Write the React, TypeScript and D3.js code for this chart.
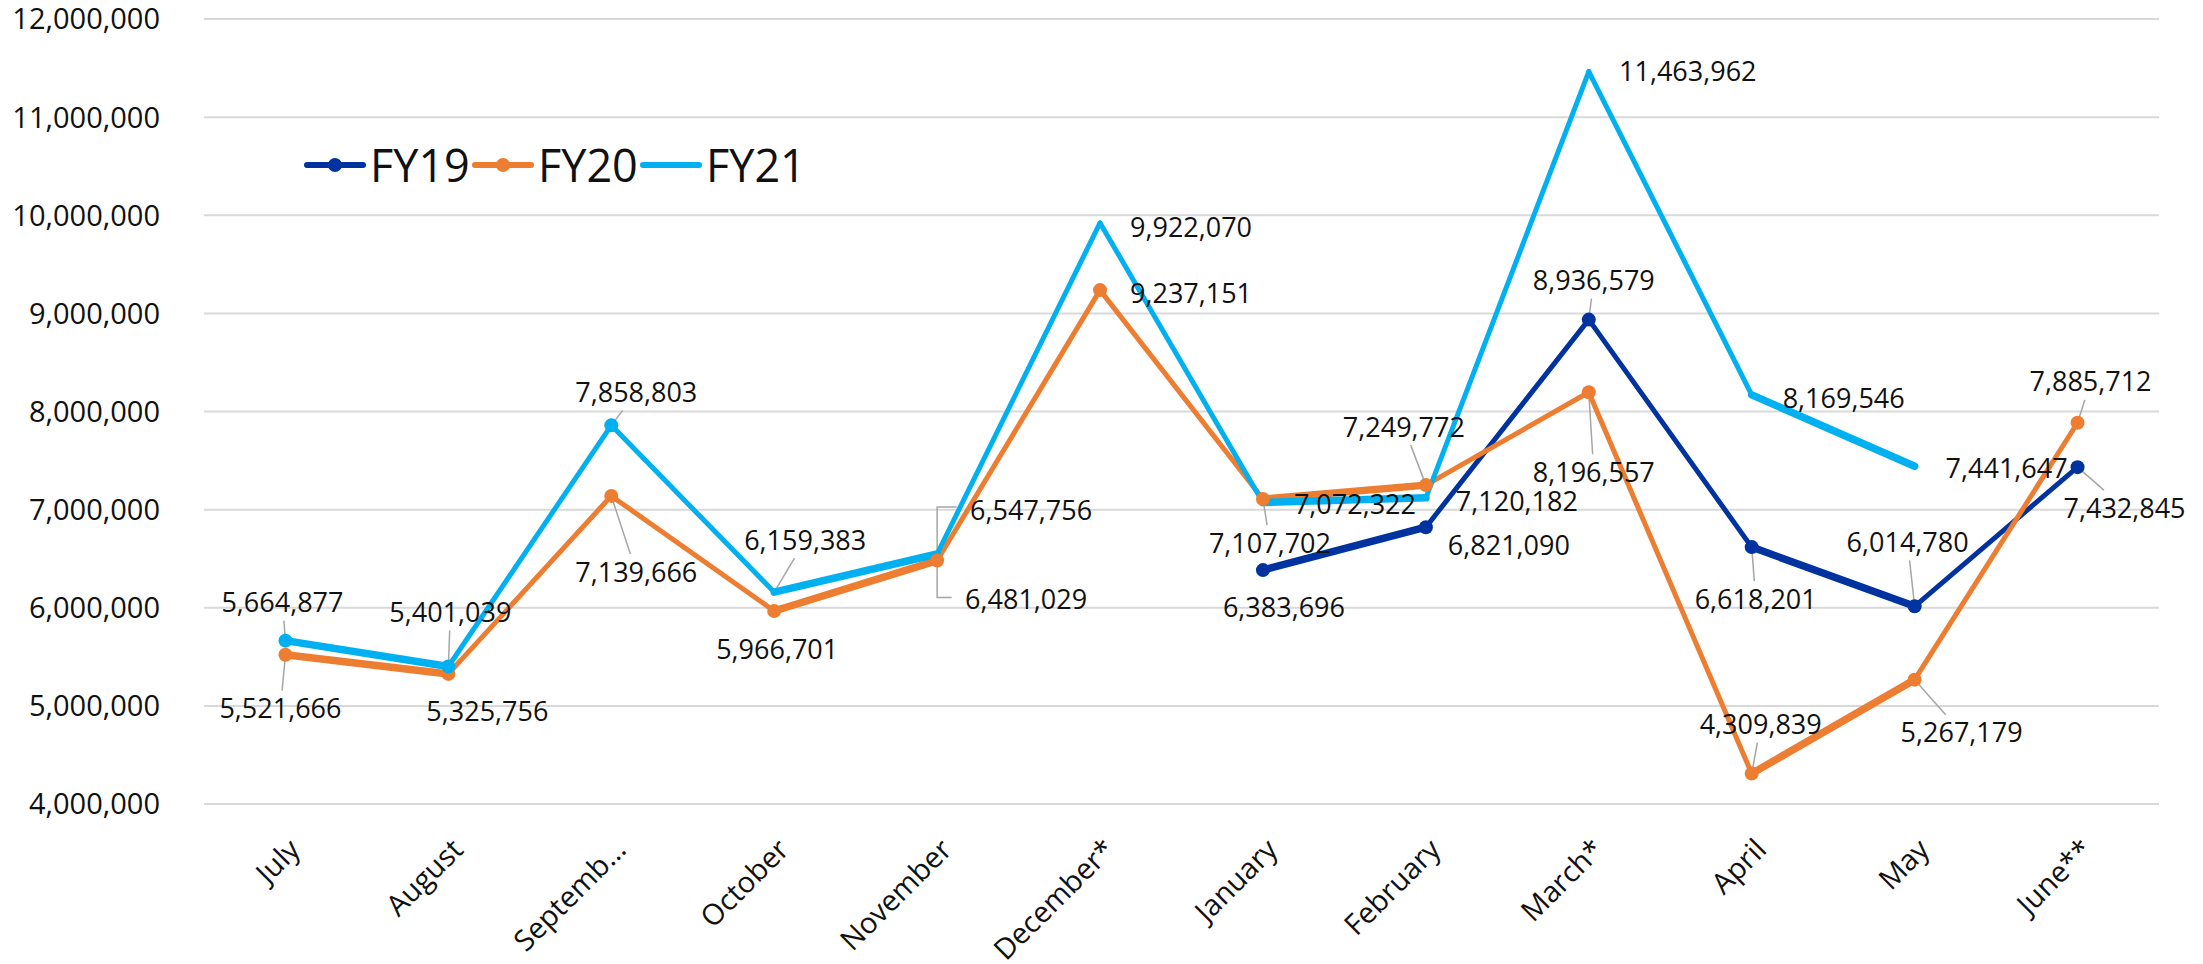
import React from 'react';
import * as d3 from 'd3';

// ---------- data ----------
const months = ['July', 'August', 'Septemb\u2026', 'October', 'November', 'December*', 'January', 'February', 'March*', 'April', 'May', 'June**'];
const fy19: (number | null)[] = [null, null, null, null, null, null, 6383696, 6821090, 8936579, 6618201, 6014780, 7432845];
const fy20: (number | null)[] = [5521666, 5325756, 7139666, 5966701, 6481029, 9237151, 7107702, 7249772, 8196557, 4309839, 5267179, 7885712];
const fy21: (number | null)[] = [5664877, 5401039, 7858803, 6159383, 6547756, 9922070, 7072322, 7120182, 11463962, 8169546, 7441647, null];
const yTicks = [4000000, 5000000, 6000000, 7000000, 8000000, 9000000, 10000000, 11000000, 12000000];
const seriesNames = ['FY19', 'FY20', 'FY21'];

// ---------- label placement (pixel offsets from the point, leader style) ----------
type Off = [number, number, string] | null; // dx, dy, leader: '' none, 'l' line, 'e' elbow
const off19: Off[] = [null, null, null, null, null, null,
  [21, 37, ''], [83, 18, ''], [5, -39, 'l'], [4, 52, 'l'], [-7, -64, 'l'], [47, 41, 'l']];
const off20: Off[] = [[-5, 54, 'l'], [39, 37, ''], [25, 76, 'l'], [3, 38, ''], [89, 39, 'e'], [91, 3, ''],
  [7, 44, 'l'], [-22, -58, 'l'], [5, 80, 'l'], [9, -49, 'l'], [47, 53, 'l'], [13, -41, 'l']];
const off21: Off[] = [[-3, -38, 'l'], [2, -54, 'l'], [25, -33, 'l'], [31, -52, 'l'], [94, -44, 'e'], [91, 4, ''],
  [92, 2, ''], [91, 3, ''], [99, 0, ''], [92, 3, ''], [92, 2, ''], null];
const markers21 = [true, true, true, false, false, false, false, false, false, false, false, false];

const colors = ['#0033A0', '#ED7D31', '#00B0F0'];
const FONT = "'Segoe UI', 'Open Sans', 'Noto Sans', sans-serif";

const W = 2203;
const H = 964;

export default function App() {
  const x = d3.scaleBand<string>().domain(months).range([204, 2159]).paddingInner(0).paddingOuter(0);
  const cx = (i: number) => (x(months[i]) as number) + x.bandwidth() / 2;
  const y = d3.scaleLinear().domain([4000000, 12000000]).range([804, 19]);
  const fmt = d3.format(',');
  const line = d3.line<[number, number]>();

  const all = [fy19, fy20, fy21];
  const offs = [off19, off20, off21];

  const labelWidth = (s: string) => {
    let w = 0;
    for (const c of s) w += c === ',' ? 6.5 : 15.4;
    return w;
  };

  const segs: JSX.Element[] = [];
  const marks: JSX.Element[] = [];
  const labels: JSX.Element[] = [];
  const leaders: JSX.Element[] = [];

  all.forEach((vals, si) => {
    for (let i = 0; i < vals.length - 1; i++) {
      const a = vals[i];
      const b = vals[i + 1];
      if (a == null || b == null) continue;
      segs.push(
        <path key={`s${si}-${i}`} d={line([[cx(i), y(a)], [cx(i + 1), y(b)]]) || ''}
          stroke={colors[si]} strokeWidth={i % 3 === 0 ? 7.5 : 5} strokeLinecap="round" fill="none" />
      );
    }
    vals.forEach((v, i) => {
      if (v == null) return;
      const show = si < 2 || markers21[i];
      if (show) marks.push(<circle key={`m${si}-${i}`} cx={cx(i)} cy={y(v)} r={7} fill={colors[si]} />);
      const o = offs[si][i];
      if (!o) return;
      const px = cx(i);
      const py = y(v);
      const lx = px + o[0];
      const ly = py + o[1];
      const txt = fmt(v);
      labels.push(
        <text key={`t${si}-${i}`} x={lx} y={ly} dy="0.36em" textAnchor="middle" fontSize={27} fill="#111">{txt}</text>
      );
      if (o[2] === 'l') {
        const hw = labelWidth(txt) / 2 + 4;
        const hh = 18;
        const dx = lx - px;
        const dy = ly - py;
        let t = 1;
        if (dy !== 0) t = Math.min(t, (Math.abs(dy) - hh) / Math.abs(dy));
        if (dx !== 0 && Math.abs(dx) > hw) t = Math.max(Math.min(t, 1), Math.min(1, (Math.abs(dx) - hw) / Math.abs(dx)));
        const ex = px + dx * t;
        const ey = py + dy * t;
        leaders.push(<line key={`l${si}-${i}`} x1={px} y1={py} x2={ex} y2={ey} stroke="#A6A6A6" strokeWidth={1.5} />);
      } else if (o[2] === 'e') {
        const left = lx - labelWidth(txt) / 2 - 14;
        const sy = ly + (o[1] < 0 ? -3 : -2);
        leaders.push(
          <path key={`e${si}-${i}`} d={`M${px},${py}L${px},${sy}L${left},${sy}`} stroke="#A6A6A6" strokeWidth={1.5} fill="none" />
        );
      }
    });
  });

  return (
    <div style={{ position: 'fixed', left: 0, top: 0, width: W, height: H, background: '#fff' }}>
      <svg width={W} height={H} style={{ display: 'block', fontFamily: FONT }}>
        <rect x={0} y={0} width={W} height={H} fill="#fff" />
        {yTicks.map((t) => (
          <g key={t}>
            <line x1={204} x2={2159} y1={y(t)} y2={y(t)} stroke="#D9D9D9" strokeWidth={2} />
            <text x={160} y={y(t)} dy="0.36em" textAnchor="end" fontSize={29} fill="#111">{fmt(t)}</text>
          </g>
        ))}
        {months.map((m, i) => (
          <text key={m} transform={`translate(${cx(i) + 9},${844}) rotate(-45)`} dy="0.36em" textAnchor="end" fontSize={29} fill="#111">{m}</text>
        ))}
        {leaders}
        {segs}
        {marks}
        {labels}
        {seriesNames.map((n, k) => {
          const x0 = 307 + k * 168;
          return (
            <g key={n}>
              <line x1={x0} x2={x0 + 56} y1={165} y2={165} stroke={colors[k]} strokeWidth={6} strokeLinecap="round" />
              {k < 2 && <circle cx={x0 + 28} cy={165} r={7} fill={colors[k]} />}
              <text x={x0 + 63} y={182} fontSize={45} fill="#111">{n}</text>
            </g>
          );
        })}
      </svg>
    </div>
  );
}
